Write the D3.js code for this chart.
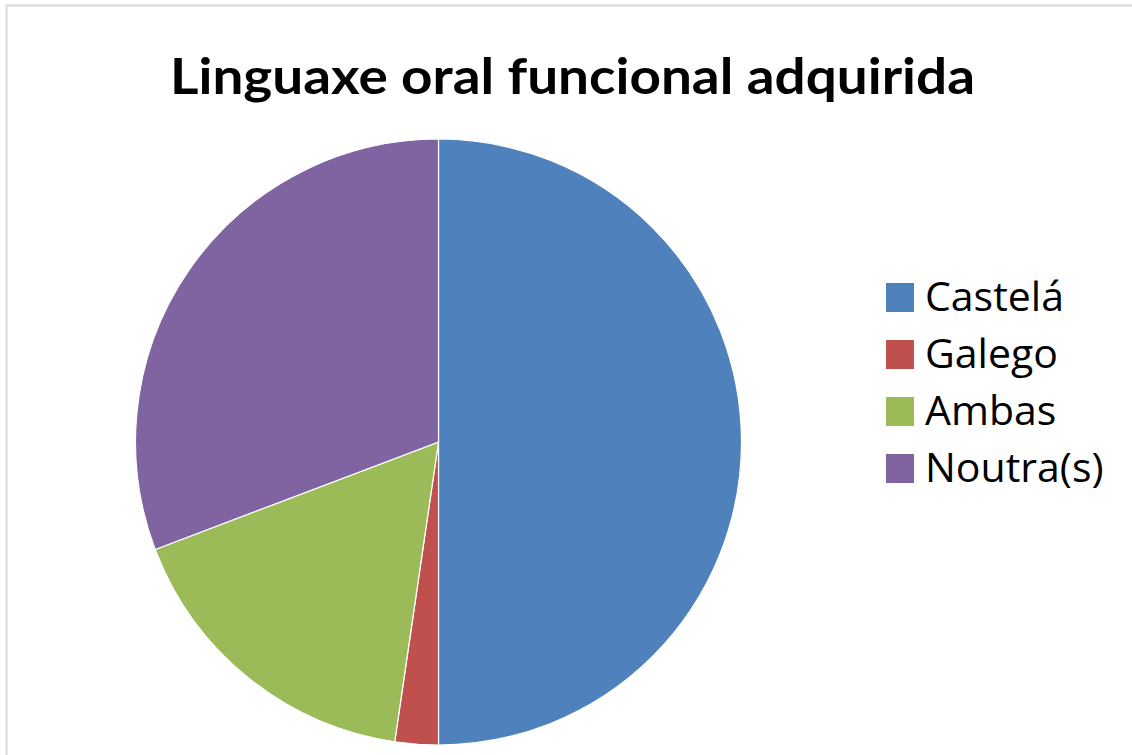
<!DOCTYPE html>
<html lang="gl">
<head>
    <meta charset="UTF-8">
    <title>Linguaxe oral funcional adquirida</title>
    <script src="https://cdnjs.cloudflare.com/ajax/libs/d3/7.8.5/d3.min.js"></script>
    <style>
        body {
            margin: 0;
            background-color: white;
        }

        #chart {
            width: 1132px;
            height: 755px;
        }

        .slice {
            stroke: white;
            stroke-width: 1.2;
        }

        .legend text {
            font-family: "Open Sans", sans-serif;
            font-size: 41px;
            fill: black;
        }
    </style>
</head>
<body>
<section id="chart"></section>
<script>
    const title = 'Linguaxe oral funcional adquirida';
    const categories = ['Castelá', 'Galego', 'Ambas', 'Noutra(s)'];
    const values = [65, 3, 22, 40];
    const colors = ['#4F81BD', '#C0504D', '#9BBB59', '#8064A2'];

    const width = 1132;
    const height = 755;
    const radius = 303;
    const cx = 438.5;
    const cy = 442;

    const svg = d3.select('#chart')
        .append('svg')
        .attr('width', width)
        .attr('height', height);

    // chart area border (only top and left visible in the crop)
    svg.append('path')
        .attr('d', `M6.5,${height} V5.5 H${width}`)
        .attr('fill', 'none')
        .attr('stroke', '#d9d9d9')
        .attr('stroke-width', 2);

    svg.append('text')
        .attr('x', 572.5)
        .attr('y', 94)
        .attr('text-anchor', 'middle')
        .attr('font-family', 'Lato, "Open Sans", sans-serif')
        .attr('font-weight', 'bold')
        .attr('font-size', 50)
        .attr('textLength', 805)
        .attr('lengthAdjust', 'spacingAndGlyphs')
        .text(title);

    const data = categories.map((c, i) => ({name: c, value: values[i]}));
    const color = d3.scaleOrdinal().domain(categories).range(colors);

    const pie = d3.pie().value(d => d.value).sort(null);
    const arc = d3.arc().innerRadius(0).outerRadius(radius);

    svg.append('g')
        .attr('transform', `translate(${cx}, ${cy})`)
        .selectAll('path')
        .data(pie(data))
        .enter()
        .append('path')
        .attr('class', 'slice')
        .attr('fill', d => color(d.data.name))
        .attr('d', arc);

    const legendY = d3.scalePoint().domain(categories).range([297.5, 468.5]);

    const legend = svg.append('g').attr('class', 'legend');
    const item = legend.selectAll('g')
        .data(categories)
        .enter()
        .append('g')
        .attr('transform', d => `translate(886, ${legendY(d)})`);

    item.append('rect')
        .attr('x', 0)
        .attr('y', -14.5)
        .attr('width', 28)
        .attr('height', 29)
        .attr('fill', d => color(d));

    item.append('text')
        .attr('x', 39)
        .attr('y', 13.5)
        .text(d => d);
</script>
</body>
</html>
